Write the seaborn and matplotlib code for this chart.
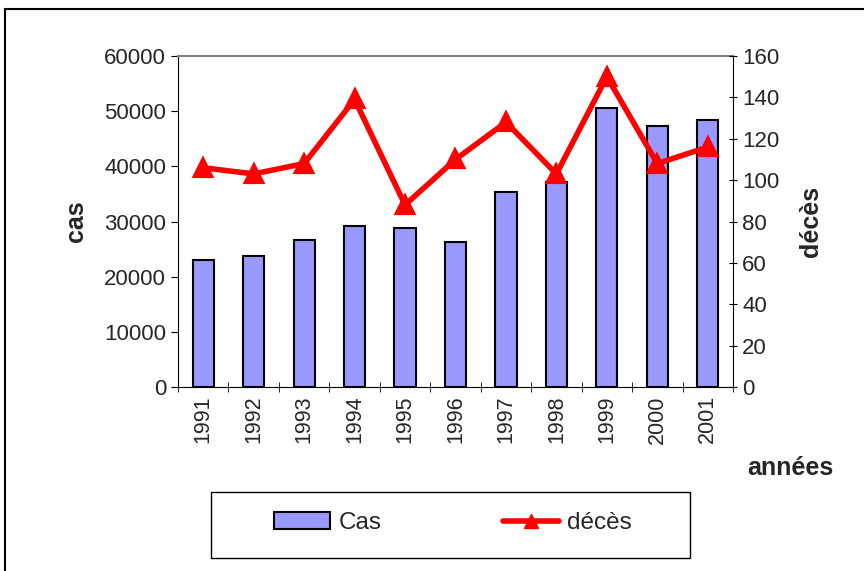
import matplotlib
matplotlib.use("Agg")
import matplotlib.pyplot as plt
import matplotlib.patches as mpatches
from matplotlib.lines import Line2D
from matplotlib.ticker import FixedLocator, MultipleLocator
import pandas as pd
import seaborn as sns

# data
annees = ['1991', '1992', '1993', '1994', '1995', '1996', '1997', '1998', '1999', '2000', '2001']
cas = [23000, 23700, 26600, 29200, 28800, 26300, 35400, 37200, 50600, 47300, 48400]
deces = [106, 103, 108, 139, 88, 110, 128, 103, 150, 108, 116]

df = pd.DataFrame({'annee': annees, 'cas': cas, 'deces': deces})

sns.set_style('white')
plt.rcParams['font.family'] = ['Liberation Sans', 'DejaVu Sans']

fig = plt.figure(figsize=(8.64, 5.71), dpi=100)
ax = fig.add_axes([178 / 864, 1 - 387 / 571, (733 - 178) / 864, (387 - 56) / 571])

# bars
sns.barplot(data=df, x='annee', y='cas', color='#9999ff', saturation=1,
            edgecolor='black', linewidth=1.5, width=0.42, ax=ax)

# line on second axis
ax2 = ax.twinx()
sns.pointplot(data=df, x='annee', y='deces', color='red', markers='^',
              linestyles='-', errorbar=None, markersize=11, linewidth=4, ax=ax2)

ax.set_xlim(-0.5, 10.5)
ax.set_ylim(0, 60000)
ax2.set_ylim(0, 160)
ax.yaxis.set_major_locator(MultipleLocator(10000))
ax2.yaxis.set_major_locator(MultipleLocator(20))

for a in (ax, ax2):
    for s in a.spines.values():
        s.set_visible(False)
ax.spines['left'].set_visible(True)
ax.spines['left'].set_color('black')
ax.spines['bottom'].set_visible(True)
ax.spines['bottom'].set_color('black')
ax.spines['top'].set_visible(True)
ax.spines['top'].set_color('#808080')
ax.spines['top'].set_linewidth(1.5)
ax2.spines['right'].set_visible(True)
ax2.spines['right'].set_color('black')

# Excel-like category ticks between bars
ax.xaxis.set_major_locator(FixedLocator(range(11)))
ax.xaxis.set_minor_locator(FixedLocator([i - 0.5 for i in range(12)]))
ax.tick_params(axis='x', which='major', length=0, labelsize=15.5, labelrotation=90, pad=6)
ax.tick_params(axis='x', which='minor', bottom=True, length=7, direction='inout', color='black')
ax.tick_params(axis='y', left=True, length=5, direction='out', labelsize=16, color='black')
ax2.tick_params(axis='y', right=True, length=6, direction='inout', labelsize=16, color='black')
ax.set_xticks(range(11))
ax.set_xticklabels(annees)

ax.set_xlabel('')
ax.set_ylabel('cas', fontsize=18, fontweight='bold', labelpad=12)
ax2.set_ylabel('décès', fontsize=18, fontweight='bold', labelpad=14)
fig.text(790 / 864, 1 - 468 / 571, 'années', fontsize=18, fontweight='bold',
         ha='center', va='center')

# legend (frame drawn separately to match the wide box)
handles = [mpatches.Patch(facecolor='#9999ff', edgecolor='black', linewidth=1.5, label='Cas'),
           Line2D([0], [0], color='red', lw=4, marker='^', markersize=10, label='décès')]
fig.legend(handles=handles, loc='center', ncol=2, frameon=False,
           fontsize=17.5, bbox_to_anchor=(453 / 864, 1 - 523 / 571),
           borderpad=0, borderaxespad=0, columnspacing=5.0, handlelength=2.3,
           handletextpad=0.33)
fig.patches.append(mpatches.Rectangle((211 / 864, 1 - 558 / 571), (690 - 211) / 864, 66 / 571,
                                      transform=fig.transFigure, fill=False,
                                      edgecolor='black', linewidth=1))

# outer chart border
fig.patches.append(mpatches.Rectangle((5 / 864, -0.1), 1.2, 1.1 - 9 / 571,
                                      transform=fig.transFigure, fill=False,
                                      edgecolor='black', linewidth=1.5))

fig.savefig('out.png', dpi=100)
